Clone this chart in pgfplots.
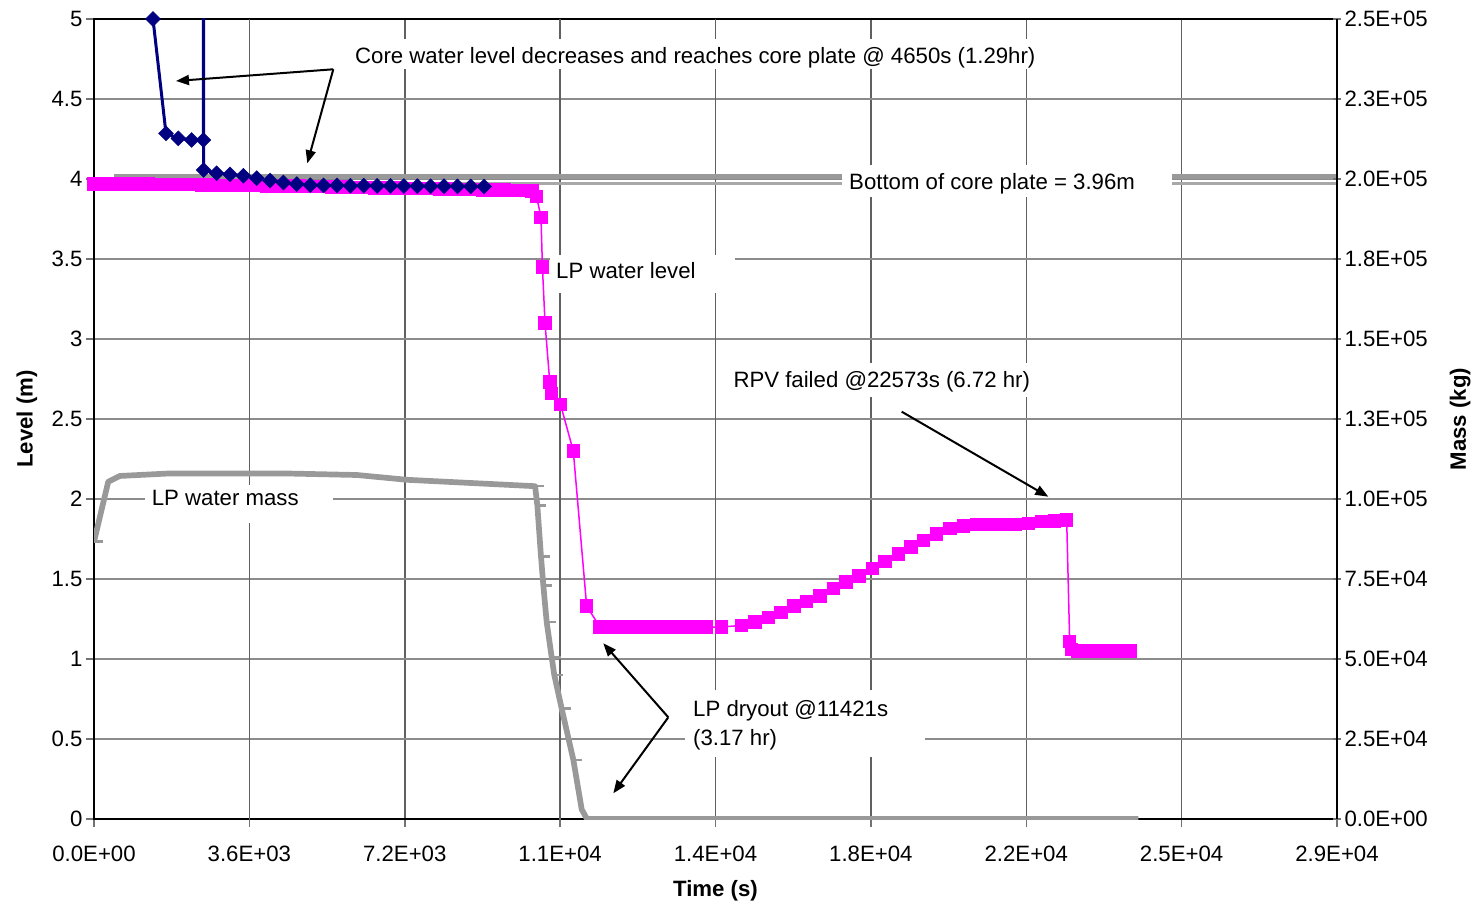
\documentclass[border=0pt]{standalone}
\usepackage{fontspec}
\setmainfont{Liberation Sans}
\usepackage{pgfplots}
\pgfplotsset{compat=1.18}
\usetikzlibrary{arrows.meta}
\definecolor{navyc}{HTML}{000080}
\definecolor{magc}{HTML}{FF00FF}
\definecolor{massgray}{HTML}{999999}
\definecolor{hgrid}{HTML}{8C8C8C}
\definecolor{vgrid}{HTML}{606060}
\pgfdeclareplotmark{rdash}{\pgfpathmoveto{\pgfqpoint{0pt}{0pt}}\pgfpathlineto{\pgfqpoint{2\pgfplotmarksize}{0pt}}\pgfusepathqstroke}
\newcommand{\fs}{\fontsize{22.2bp}{26bp}\selectfont}
\pgfplotsset{
  base/.style={scale only axis, width=1243bp, height=800bp, xmin=0, xmax=28800,
    scaled x ticks=false, scaled y ticks=false,
    tick align=outside, major tick length=8bp,
    tick style={line width=1.5bp, black!55},
    tick label style={font=\fs},
    label style={font=\fs\bfseries},
    axis line style={-, line width=2.5bp, black},
  }
}
\begin{document}
\begin{tikzpicture}
\begin{axis}[base, ymin=0, ymax=5,
  xtick={0,3600,7200,10800,14400,18000,21600,25200,28800},
  xticklabels={0.0E+00,3.6E+03,7.2E+03,1.1E+04,1.4E+04,1.8E+04,2.2E+04,2.5E+04,2.9E+04},
  ytick={0,0.5,1,1.5,2,2.5,3,3.5,4,4.5,5},
  yticklabels={0,0.5,1,1.5,2,2.5,3,3.5,4,4.5,5},
  xtick pos=left, ytick pos=left,
  xmajorgrids, ymajorgrids,
  x grid style={vgrid, line width=1.5bp},
  y grid style={hgrid, line width=2.2bp},
  extra x ticks={3600,10800,14400}, extra x tick labels={},
  extra x tick style={grid style={black, line width=1.2bp}},
  xticklabel style={yshift=-15bp},
  xlabel={Time (s)}, ylabel={Level (m)},
  xlabel style={at={(axis description cs:0.5,-0.09)}, anchor=center},
  ylabel style={at={(axis description cs:-0.054,0.5)}, anchor=center},
]
% LP water level
\addplot[magc, line width=1.5bp, mark=square*, mark size=6bp, mark options={solid}] table {
0 3.97
250 3.97
500 3.97
750 3.97
1000 3.97
1250 3.97
1500 3.967
1750 3.965
2000 3.965
2250 3.965
2500 3.963
2750 3.962
3000 3.96
3250 3.96
3500 3.96
3750 3.958
4000 3.957
4250 3.956
4500 3.955
4750 3.955
5000 3.953
5250 3.952
5500 3.95
5750 3.95
6000 3.948
6250 3.947
6500 3.945
6750 3.944
7000 3.943
7250 3.942
7500 3.94
7750 3.94
8000 3.938
8250 3.937
8500 3.935
8750 3.934
9000 3.932
9250 3.931
9500 3.93
9750 3.928
10000 3.927
10150 3.925
10255 3.89
10357 3.76
10390 3.45
10450 3.10
10560 2.73
10600 2.66
10810 2.59
11105 2.30
11415 1.33
11725 1.20
12034 1.20
12343 1.20
12652 1.20
12961 1.20
13270 1.20
13579 1.20
13888 1.20
14196 1.20
14544 1.20
15008 1.21
15316 1.23
15624 1.26
15918 1.29
16219 1.33
16513 1.36
16821 1.395
17130 1.44
17424 1.48
17725 1.52
18033 1.566
18327 1.61
18635 1.656
18930 1.70
19215 1.74
19525 1.78
19833 1.816
20142 1.83
20452 1.84
20760 1.84
21031 1.84
21339 1.84
21647 1.847
21957 1.86
22250 1.863
22537 1.87
22606 1.11
22650 1.06
22800 1.05
23000 1.05
23200 1.05
23400 1.05
23600 1.05
23800 1.05
24000 1.05
};
% Core water level (line)
\addplot[navyc, line width=3bp] table {
1300 7.0
1367 5.0
1668 4.285
1954 4.254
2263 4.244
2533 4.244
2538 9.0
2541 4.056
2843 4.036
3151 4.029
3460 4.02
3770 4.005
4080 3.99
4390 3.978
4700 3.968
5010 3.962
5320 3.96
5630 3.96
5940 3.958
6250 3.958
6560 3.957
6870 3.957
7180 3.956
7490 3.956
7800 3.955
8110 3.955
8420 3.954
8730 3.954
9040 3.953
};
% Core water level (markers)
\addplot[navyc, only marks, mark=square*, mark size=5.3bp, mark options={rotate=45}] table {
1367 5.0
1668 4.285
1954 4.254
2263 4.244
2533 4.244
2541 4.056
2843 4.036
3151 4.029
3460 4.02
3770 4.005
4080 3.99
4390 3.978
4700 3.968
5010 3.962
5320 3.96
5630 3.96
5940 3.958
6250 3.958
6560 3.957
6870 3.957
7180 3.956
7490 3.956
7800 3.955
8110 3.955
8420 3.954
8730 3.954
9040 3.953
};
% Bottom of core plate
\addplot[massgray, line width=4.7bp] coordinates {(463,4.0144) (28800,4.0144)};
\addplot[massgray!85, line width=3.3bp] coordinates {(463,3.973) (28800,3.973)};
\end{axis}
\begin{axis}[base, ymin=0, ymax=250000,
  axis y line=right, axis x line=none,
  y axis line style={-},
  every outer y axis line/.append style={-},
  ytick={0,25000,50000,75000,100000,125000,150000,175000,200000,225000,250000},
  yticklabels={0.0E+00,2.5E+04,5.0E+04,7.5E+04,1.0E+05,1.3E+05,1.5E+05,1.8E+05,2.0E+05,2.3E+05,2.5E+05},
  ylabel={Mass (kg)},
  ylabel style={at={(axis description cs:1.099,0.5)}, anchor=center, font=\fs\bfseries},
]
\addplot[massgray, line width=5.7bp, line join=round] table {
0 86650
330 105400
600 107200
1700 107950
4540 107950
6090 107500
7250 106000
10220 104000
10272 98000
10357 82000
10411 73000
10489 61500
10605 50500
10665 45000
10836 34500
11106 18500
11300 3000
11421 0
11700 0
24200 0
};
\addplot[massgray, only marks, mark=rdash, mark size=4.5bp, mark options={line width=2.5bp}] table {
0 86650
10220 104000
10272 98000
10357 82000
10411 73000
10489 61500
10605 50500
10665 45000
10836 34500
11106 18500
};
\end{axis}
% annotation boxes
\fill[white] (254bp,750bp) rectangle (960bp,780bp);
\fill[white] (748bp,622bp) rectangle (1078bp,654bp);
\fill[white] (456bp,526bp) rectangle (641bp,564bp);
\fill[white] (632bp,422bp) rectangle (946bp,456bp);
\fill[white] (51bp,296bp) rectangle (239bp,334bp);
\fill[white] (591bp,62bp) rectangle (831bp,129bp);
% arrows
\begin{scope}[line width=2bp, -{Triangle[length=13bp,width=10bp]}]
\draw (239.3bp,749.7bp) -- (82bp,738bp);
\draw (239.3bp,749.7bp) -- (213.3bp,655.7bp);
\draw (807.7bp,407.3bp) -- (954.3bp,322.3bp);
\draw (574.3bp,101.7bp) -- (509.3bp,175.7bp);
\draw (574.3bp,101.7bp) -- (519.3bp,25.7bp);
\end{scope}
% texts
\begin{scope}[every node/.style={anchor=base west, inner sep=0pt, font=\fs}]
\node at (261bp,755.3bp) {Core water level decreases and reaches core plate @ 4650s (1.29hr)};
\node at (755bp,629.5bp) {Bottom of core plate = 3.96m};
\node at (462bp,540bp) {LP water level};
\node at (639.3bp,431bp) {RPV failed @22573s (6.72 hr)};
\node at (57.7bp,313.3bp) {LP water mass};
\node at (599bp,102bp) {LP dryout @11421s};
\node at (599bp,73bp) {(3.17 hr)};
\end{scope}
\pgfresetboundingbox
\path (-94bp,-85bp) rectangle (1379bp,819bp);
\end{tikzpicture}
\end{document}
